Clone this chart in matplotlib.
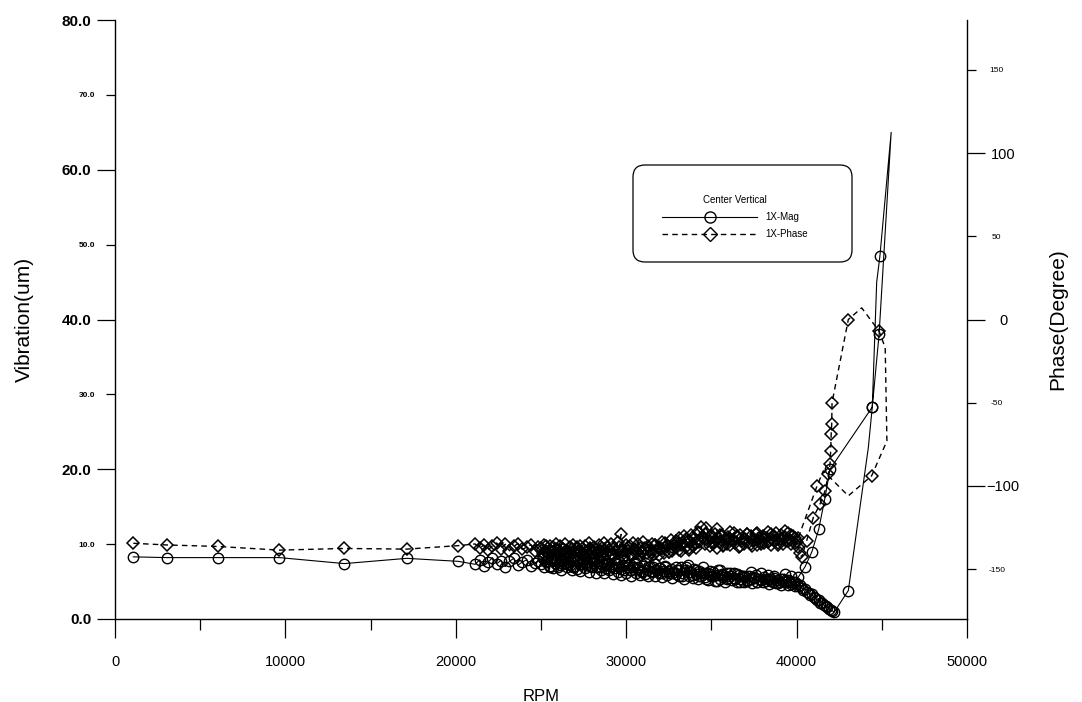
import numpy as np
import matplotlib
matplotlib.use("Agg")
import matplotlib.pyplot as plt
from matplotlib.ticker import FixedLocator, FixedFormatter
from matplotlib.patches import FancyBboxPatch
from matplotlib.lines import Line2D

plt.rcParams['font.family'] = ['Liberation Sans', 'DejaVu Sans']

# --- low speed readings (sparse) ---
low_rpm = [1075, 3030, 6025, 9640, 13460, 17120, 20150]
low_mag = [8.3, 8.2, 8.2, 8.2, 7.4, 8.1, 7.7]
low_phase = [-134.5, -135.5, -136.4, -138.6, -137.6, -138.0, -135.9]

# --- 21000..24850 rpm ---
mid_rpm = [21130, 21400, 21650, 21900, 22150, 22400, 22650, 22900,
           23150, 23400, 23650, 23900, 24150, 24400, 24650, 24850]
mid_mag = [7.3, 7.9, 7.1, 7.6, 8.2, 7.4, 7.8, 7.0,
           7.7, 8.1, 7.2, 7.6, 7.9, 7.1, 7.5, 7.8]
mid_phase = [-134.9, -137.2, -135.6, -138.4, -136.0, -134.3, -137.8, -135.1,
             -139.0, -136.3, -134.7, -138.2, -136.9, -135.4, -139.3, -137.0]

# --- run-up band, 25000..40200 rpm every 100 rpm ---
band_rpm = list(range(25000, 40300, 100))
band_mag = [7.4, 8.1, 6.9, 7.7, 8.3, 7.1, 7.9, 6.8, 7.5, 8.0,
            7.0, 7.8, 6.6, 7.3, 8.2, 6.9, 7.6, 7.2, 6.5, 7.9,
            7.1, 6.7, 7.8, 6.4, 7.4, 8.0, 6.8, 7.2, 6.3, 7.6,
            6.9, 7.5, 6.2, 7.0, 7.7, 6.6, 7.3, 6.1, 6.8, 7.4,
            6.5, 7.1, 6.0, 6.8, 7.5, 6.3, 6.9, 5.9, 7.2, 6.6,
            6.2, 7.0, 6.5, 5.8, 6.9, 7.3, 6.1, 6.7, 5.9, 6.4,
            7.1, 6.0, 6.6, 5.7, 6.9, 6.3, 7.0, 5.8, 6.5, 6.1,
            6.8, 5.6, 6.4, 6.9, 5.9, 6.2, 6.7, 5.5, 6.3, 6.0,
            6.6, 5.7, 6.9, 6.1, 5.4, 6.5, 7.2, 5.8, 6.3, 5.5,
            6.7, 6.0, 5.3, 6.4, 5.8, 6.9, 5.6, 6.2, 5.2, 6.0,
            5.7, 6.3, 5.1, 5.9, 6.5, 5.4, 6.0, 5.6, 5.0, 6.2,
            5.5, 5.8, 5.2, 6.1, 5.4, 5.0, 5.9, 5.3, 5.7, 4.9,
            5.6, 5.1, 5.8, 5.3, 4.8, 5.5, 5.9, 5.0, 5.4, 5.2,
            4.9, 5.6, 5.1, 5.4, 4.7, 5.3, 5.0, 5.5, 4.8, 5.2,
            5.0, 4.6, 5.3, 4.9, 5.1, 4.5, 4.9, 4.7, 5.0, 4.4,
            4.7, 4.4, 4.5]
band_phase = [-137.5, -140.2, -135.8, -138.9, -141.0, -136.4, -139.3, -137.0, -141.6, -135.2,
              -138.4, -136.1, -140.7, -137.8, -134.9, -139.6, -141.3, -136.8, -138.1, -135.5,
              -140.0, -137.3, -139.1, -135.9, -141.8, -138.6, -136.2, -139.9, -134.6, -137.9,
              -140.5, -136.7, -138.8, -141.1, -135.3, -139.4, -137.6, -134.2, -140.9, -136.5,
              -138.3, -135.0, -141.4, -137.1, -139.7, -133.8, -136.9, -129.2, -138.5, -140.3,
              -135.6, -139.0, -136.3, -141.2, -134.5, -138.2, -140.6, -135.1, -137.4, -139.8,
              -133.9, -137.7, -140.1, -136.0, -138.7, -134.8, -141.5, -135.7, -139.2, -136.6,
              -138.0, -133.5, -140.4, -137.2, -135.4, -139.5, -132.8, -138.9, -136.4, -134.1,
              -137.0, -131.6, -139.1, -134.3, -130.2, -136.8, -133.0, -138.3, -129.4, -135.9,
              -131.8, -137.4, -127.9, -133.6, -124.5, -130.7, -135.2, -128.6, -132.9, -136.1,
              -130.4, -134.7, -128.9, -137.5, -131.3, -133.8, -129.7, -136.0, -132.2, -134.9,
              -130.9, -135.6, -132.6, -128.3, -134.4, -131.0, -136.5, -129.5, -133.3, -135.1,
              -131.7, -128.8, -134.0, -130.3, -136.2, -132.4, -129.1, -135.3, -131.5, -133.6,
              -129.9, -134.6, -131.2, -127.6, -133.1, -135.8, -130.0, -132.7, -128.4, -134.2,
              -131.9, -129.3, -135.0, -130.6, -133.4, -128.1, -132.3, -134.8, -130.1, -131.4,
              -133.9, -136.8, -140.5]

# --- through resonance and back, magnitude ---
hi_mag_rpm = [40300, 40400, 40500, 40600, 40700, 40800, 40900, 41000, 41100, 41200,
              41300, 41400, 41500, 41600, 41700, 41800, 41900, 42000, 42100, 42200,
              43035, 44210, 44440, 44700, 44890, 45550,
              44840, 44440, 41960, 41650, 41300, 40900, 40500]
hi_mag = [4.1, 3.9, 4.0, 3.6, 3.5, 3.2, 3.3, 2.9, 2.8, 2.5,
          2.6, 2.2, 2.1, 1.9, 1.7, 1.6, 1.4, 1.2, 1.1, 0.9,
          3.8, 22.9, 28.3, 45.0, 48.5, 65.0,
          38.0, 28.3, 20.0, 16.0, 12.0, 9.0, 7.0]
hi_mag_marked = [1] * 20 + [1, 0, 1, 0, 1, 0] + [1, 1, 1, 1, 1, 1, 1]

# --- through resonance and back, phase ---
hi_phase_rpm = [40300, 40590, 40980, 41370, 41670, 41870, 41960, 42000, 42030, 42060, 42080,
                43035, 43820, 44840, 45200, 45300,
                44400, 43035, 41570, 41200]
hi_phase = [-143.0, -133.0, -119.0, -111.0, -103.0, -93.0, -87.0, -79.0, -69.0, -63.0, -50.0,
            0.0, 7.0, -7.0, -17.0, -73.0,
            -94.0, -106.0, -91.0, -100.0]
hi_phase_marked = [1] * 11 + [1, 0, 1, 0, 0] + [1, 0, 0, 1]

# --- coast-down band, 40100..25100 rpm every 200 rpm ---
down_rpm = list(range(40100, 25000, -200))
down_mag = [5.6, 4.9, 5.8, 5.2, 6.0, 5.4, 4.8, 5.7, 5.1, 5.9,
            5.3, 6.1, 5.0, 5.6, 6.3, 5.2, 5.8, 4.9, 6.0, 5.5,
            6.2, 5.4, 5.9, 6.5, 5.1, 5.7, 6.4, 5.3, 6.1, 5.8,
            6.6, 5.9, 6.3, 7.0, 5.8, 6.5, 6.9, 6.1, 6.4, 7.1,
            6.2, 6.8, 7.3, 6.4, 6.9, 7.5, 6.3, 7.0, 7.6, 6.6,
            7.2, 7.8, 6.7, 7.4, 8.0, 6.9, 7.5, 8.2, 7.0, 7.7,
            8.3, 7.1, 7.6, 8.4, 7.3, 7.9, 6.9, 8.1, 7.4, 8.5,
            7.2, 7.8, 8.3, 7.0, 7.6, 8.2]
down_phase = [-131.2, -134.5, -129.8, -133.0, -127.4, -132.1, -135.6, -130.3, -128.7, -133.9,
              -130.8, -135.2, -128.2, -132.6, -134.9, -129.1, -131.9, -136.3, -130.0, -133.4,
              -127.8, -132.3, -135.8, -129.6, -126.2, -133.7, -130.5, -125.3, -131.4, -128.1,
              -134.6, -130.9, -137.2, -132.0, -135.5, -138.4, -133.1, -136.7, -139.5, -134.2,
              -137.9, -141.3, -135.7, -139.8, -143.0, -137.1, -140.6, -144.2, -138.3, -141.9,
              -136.5, -142.7, -139.2, -144.8, -137.6, -141.1, -145.3, -138.9, -142.4, -140.0,
              -143.6, -137.4, -141.7, -145.0, -139.6, -136.8, -142.9, -140.5, -144.1, -138.2,
              -141.5, -137.7, -143.8, -139.4, -136.3, -142.2]

mag_rpm = low_rpm + mid_rpm + band_rpm + hi_mag_rpm + down_rpm
mag_um = low_mag + mid_mag + band_mag + hi_mag + down_mag
phase_rpm = low_rpm + mid_rpm + band_rpm + hi_phase_rpm + down_rpm
phase_deg = low_phase + mid_phase + band_phase + hi_phase + down_phase

n0 = len(low_rpm) + len(mid_rpm) + len(band_rpm)
mag_marks = (list(range(n0)) + [n0 + i for i, m in enumerate(hi_mag_marked) if m]
             + list(range(n0 + len(hi_mag_rpm), len(mag_rpm))))
phase_marks = (list(range(n0)) + [n0 + i for i, m in enumerate(hi_phase_marked) if m]
               + list(range(n0 + len(hi_phase_rpm), len(phase_rpm))))

W, H = 1082, 702
fig = plt.figure(figsize=(W / 100, H / 100), dpi=100)
ax = fig.add_axes([115 / W, 83 / H, 852 / W, 599 / H])
ax2 = ax.twinx()

ax.plot(mag_rpm, mag_um, '-', color='black', lw=0.8, marker='o', ms=7.5,
        mfc='none', mec='black', mew=1.0, markevery=mag_marks)
ax2.plot(phase_rpm, phase_deg, '--', color='black', lw=1.0, dashes=(4, 3),
         marker='D', ms=6.5, mfc='none', mec='black', mew=1.1,
         markevery=phase_marks)

ax.set_xlim(0, 50000)
ax.set_ylim(0, 80)
ax2.set_ylim(-180, 180)

for a in (ax, ax2):
    a.spines['top'].set_visible(False)
    for s in a.spines.values():
        s.set_linewidth(1.0)
ax.spines['right'].set_visible(False)
ax2.spines['left'].set_visible(False)
ax2.spines['bottom'].set_visible(False)

# x axis
ax.xaxis.set_major_locator(FixedLocator([0, 10000, 20000, 30000, 40000, 50000]))
ax.xaxis.set_minor_locator(FixedLocator([5000, 15000, 25000, 35000, 45000]))
ax.tick_params(axis='x', which='major', direction='out', length=14, width=0.9,
               pad=12, labelsize=10.5)
ax.tick_params(axis='x', which='minor', direction='out', length=8, width=0.9)
for t in ax.get_xticklabels():
    t.set_family(['Liberation Sans Narrow', 'Liberation Sans', 'DejaVu Sans'])

# left axis: big labels on majors, small labels on minors
ax.yaxis.set_major_locator(FixedLocator([0, 20, 40, 60, 80]))
ax.yaxis.set_major_formatter(FixedFormatter(['0.0', '20.0', '40.0', '60.0', '80.0']))
ax.yaxis.set_minor_locator(FixedLocator([10, 30, 50, 70]))
ax.yaxis.set_minor_formatter(FixedFormatter(['10.0', '30.0', '50.0', '70.0']))
ax.tick_params(axis='y', which='major', direction='out', length=13, width=0.9,
               pad=4, labelsize=11)
ax.tick_params(axis='y', which='minor', direction='out', length=6.5, width=0.9,
               pad=8, labelsize=6)
for t in ax.get_yticklabels(which='both'):
    t.set_fontweight('bold')

# right axis
ax2.yaxis.set_major_locator(FixedLocator([-100, 0, 100]))
ax2.yaxis.set_minor_locator(FixedLocator([-150, -50, 50, 150]))
ax2.yaxis.set_minor_formatter(FixedFormatter(['-150', '-50', '50', '150']))
ax2.tick_params(axis='y', which='major', direction='out', length=13, width=0.9,
                pad=13, labelsize=10.5)
ax2.tick_params(axis='y', which='minor', direction='out', length=6.5, width=0.9,
                pad=15, labelsize=6)
for t in ax2.get_yticklabels(which='both'):
    t.set_horizontalalignment('center')

ax.set_xlabel('RPM', fontsize=12)
ax.xaxis.set_label_coords(0.5, -0.117)
ax.set_ylabel('Vibration(um)', fontsize=15)
ax.yaxis.set_label_coords(-0.095, 0.5)
ax2.set_ylabel('Phase(Degree)', fontsize=15)
ax2.yaxis.set_label_coords(1.095, 0.5)

# legend: rounded frame plus entries
fig.patches.append(FancyBboxPatch((633, H - 262), 219, 97, transform=None,
                                  boxstyle='round,pad=0,rounding_size=12',
                                  fc='white', ec='black', lw=0.9, zorder=5))
handles = [Line2D([], [], color='black', lw=0.8, marker='o', ms=8, mfc='none', mec='black'),
           Line2D([], [], color='black', lw=1.0, ls='--', dashes=(4, 3), marker='D', ms=7,
                  mfc='none', mec='black')]
leg = fig.legend(handles, ['1X-Mag', '1X-Phase'], title='Center Vertical',
                 loc='upper left', bbox_to_anchor=(657 / W, 1 - 190 / H),
                 frameon=False, fontsize=7, title_fontsize=7, borderpad=0,
                 handlelength=9.8, handletextpad=0.8, labelspacing=0.75)
leg.set_zorder(6)

fig.savefig('out.png', dpi=100)
